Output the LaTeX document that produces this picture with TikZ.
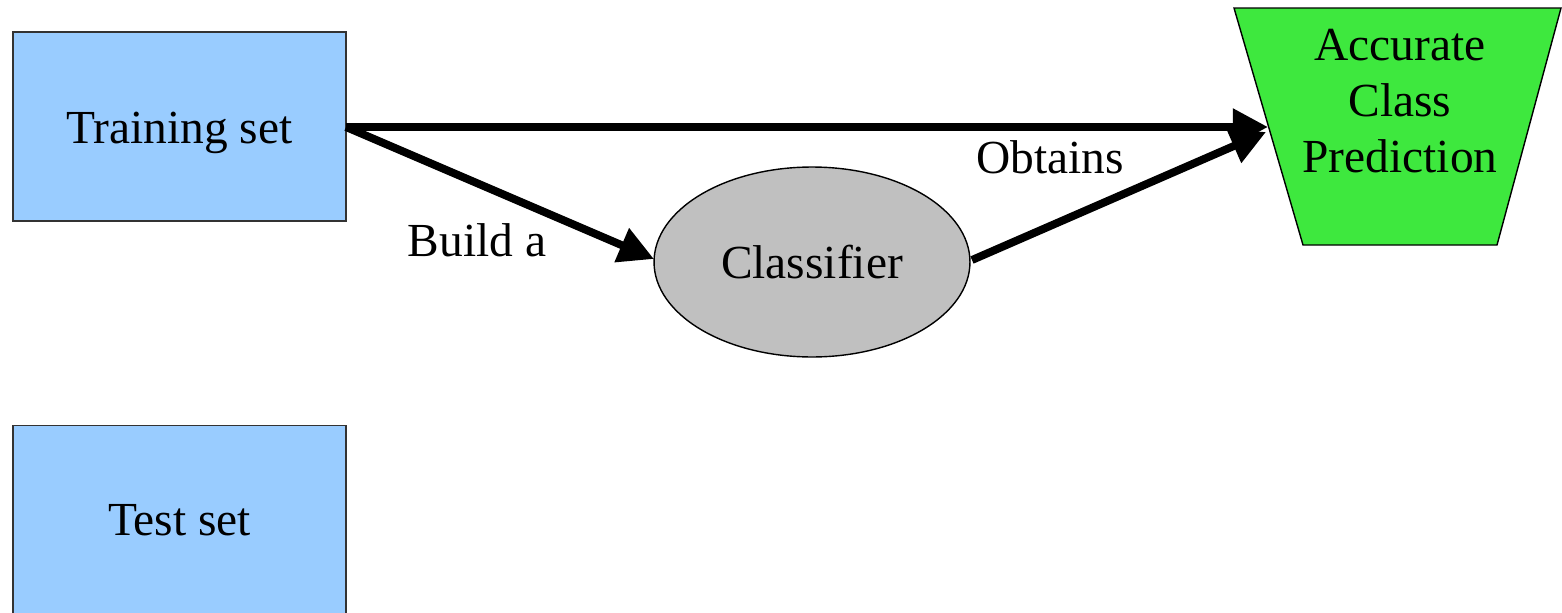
\documentclass[tikz,border=0pt]{standalone}
\usepackage{fontspec}
\setmainfont{Liberation Serif}
\usetikzlibrary{arrows.meta,shapes.geometric}
\definecolor{setblue}{HTML}{99CCFF}
\definecolor{clsgray}{HTML}{C0C0C0}
\definecolor{predgreen}{HTML}{3EE83E}
\begin{document}
\begin{tikzpicture}[x=0.02cm,y=-0.02cm,
  lbl/.style={font=\fontsize{27}{32}\selectfont, inner sep=0pt},
  setbox/.style={draw=black!80, line width=0.8pt, fill=setblue,
    minimum width=6.66cm, minimum height=3.78cm, inner sep=0pt,
    font=\fontsize{27}{32}\selectfont},
  clsnode/.style={ellipse, draw=black, line width=0.8pt, fill=clsgray,
    minimum width=6.32cm, minimum height=3.8cm, inner sep=0pt,
    font=\fontsize{27}{32}\selectfont},
  flow/.style={line width=4.5pt, -{Triangle[length=20pt,width=20pt]}}]
  \clip (0,0) rectangle (1562,612);
  \useasboundingbox (0,0) rectangle (1562,612);

  % data sets
  \node[setbox, text height=25pt, text depth=6pt] (train) at (179.5,126.5) {Training set};
  \node[setbox] (test) at (179.5,520) {Test set};

  % model
  \node[clsnode] (cls) at (812,262) {Classifier};

  % outcome trapezoid
  \draw[fill=predgreen, draw=black, line width=0.8pt]
    (1234,8) -- (1561,8) -- (1497,245) -- (1303,245) -- cycle;
  \node[lbl, align=center] (pred) at (1400,101) {Accurate\\Class\\Prediction};

  % connector end points
  \coordinate (trainOut) at (346,127);
  \coordinate (predIn1) at (1268,127);
  \coordinate (predIn2) at (1266,132);
  \coordinate (clsIn) at (654,259);
  \coordinate (clsOut) at (972,260);

  % connectors
  \draw[flow] (trainOut) -- (predIn1);
  \draw[flow] (trainOut) -- (clsIn);
  \draw[flow] (clsOut) -- (predIn2);

  % labels
  \node[lbl] (buildlbl) at (477,240) {Build a};
  \node[lbl] (obtainlbl) at (1050,157) {Obtains};
\end{tikzpicture}
\end{document}
